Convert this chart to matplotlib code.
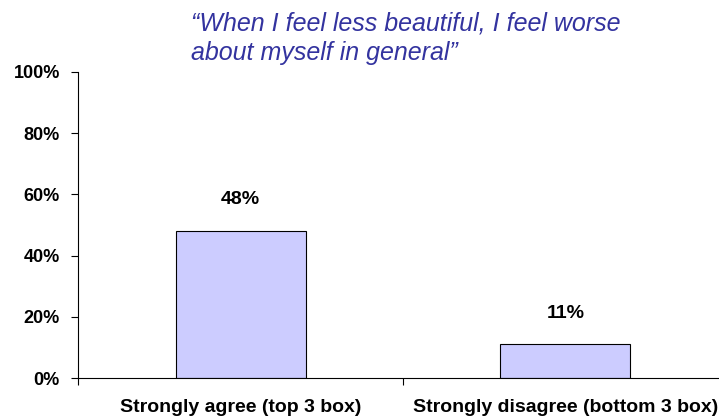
import matplotlib.pyplot as plt
from matplotlib.ticker import FuncFormatter

categories = ['Strongly agree (top 3 box)', 'Strongly disagree (bottom 3 box)']
values = [48, 11]
title_lines = ['\u201cWhen I feel less beautiful, I feel worse',
               'about myself in general\u201d']

plt.rcParams['font.family'] = ['Liberation Sans', 'DejaVu Sans']

fig = plt.figure(figsize=(7.19, 4.19), dpi=100)
ax = fig.add_axes([78 / 719, 1 - 378 / 419, 650 / 719, 306 / 419])

x = range(len(categories))
bars = ax.bar(x, values, width=0.4, color='#ccccff', edgecolor='black', linewidth=0.8)

# value labels above the bars
for xi, v in zip(x, values):
    ax.annotate(f'{v}%', (xi, v), xytext=(0, 24), textcoords='offset points',
                ha='center', va='center_baseline', fontsize=14, fontweight='bold')

ax.set_xlim(-0.5, len(categories) - 0.5)
ax.set_ylim(0, 100)
ax.set_yticks(range(0, 101, 20))
ax.yaxis.set_major_formatter(FuncFormatter(lambda v, p: f'{v:.0f}%'))

# category labels sit between boundary ticks
ax.set_xticks([i - 0.5 for i in range(len(categories) + 1)])
ax.set_xticklabels([])
ax.set_xticks(list(x), minor=True)
ax.set_xticklabels(categories, minor=True, fontsize=14, fontweight='bold')
ax.tick_params(axis='x', which='minor', length=0, pad=15)
ax.tick_params(axis='x', which='major', length=5, direction='out')
ax.tick_params(axis='y', length=5, direction='out', pad=8)
for lab in ax.get_yticklabels():
    lab.set_fontweight('bold')
    lab.set_fontsize(13)

for s in ['top', 'right']:
    ax.spines[s].set_visible(False)
for s in ['left', 'bottom']:
    ax.spines[s].set_linewidth(0.8)

fig.text(191 / 719, 1 - 24 / 419, title_lines[0], fontsize=18, style='italic',
         color='#33339f', va='center', ha='left')
fig.text(191 / 719, 1 - 53 / 419, title_lines[1], fontsize=18, style='italic',
         color='#33339f', va='center', ha='left')

fig.savefig('out.png', dpi=100)
